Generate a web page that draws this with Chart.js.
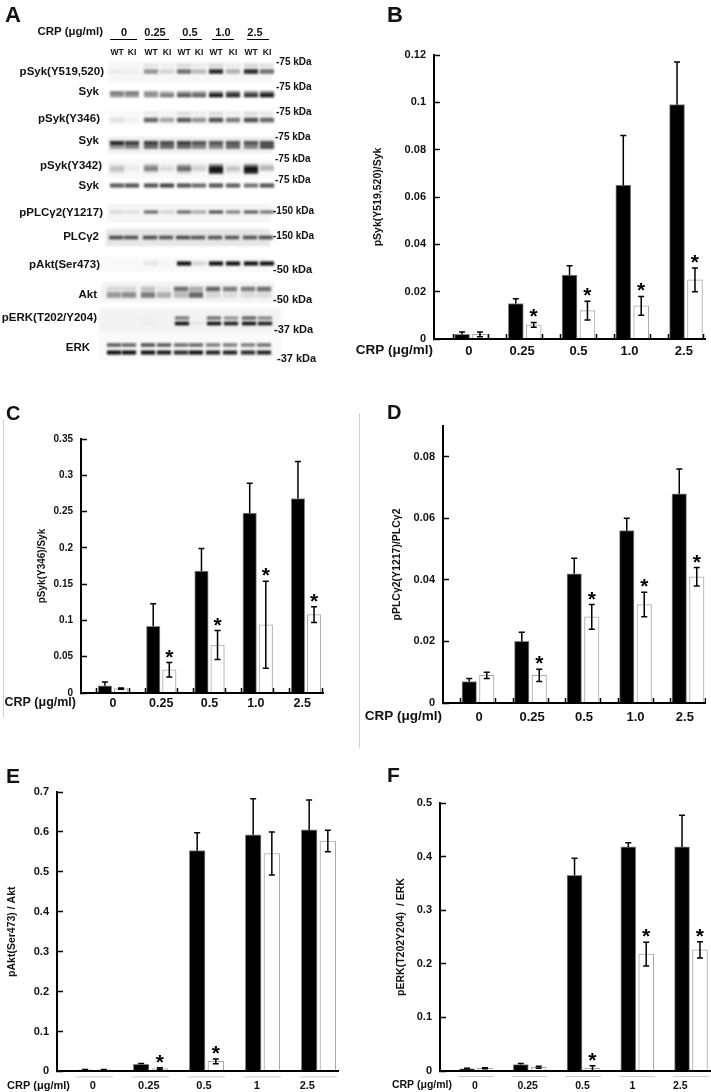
<!DOCTYPE html>
<html>
<head>
<meta charset="utf-8">
<title>CRP signalling panels</title>
<script src="https://cdn.jsdelivr.net/npm/chart.js@4/dist/chart.umd.min.js"></script>
<style>
  html, body { margin: 0; padding: 0; background: #fff; width: 711px; height: 1092px; overflow: hidden; }
  body { position: relative; font-family: "Liberation Sans", Arial, sans-serif; color: #111; }
  canvas { position: absolute; filter: blur(0.4px); }
  #blot { filter: blur(0.9px); }
  .t { position: absolute; white-space: nowrap; font-weight: bold; line-height: 1; transform: translateY(-50%); filter: blur(0.3px); }
  .r { transform: translate(-100%, -50%); }
  .c { transform: translate(-50%, -50%); }
  .rule { position: absolute; background: #000; height: 1px; }
  .vline { position: absolute; background: #d0d0d0; width: 1px; }
</style>
</head>
<body>
<canvas id="blot" width="340" height="400" style="left:0;top:0"></canvas>
<canvas id="chartB"></canvas>
<canvas id="chartC"></canvas>
<canvas id="chartD"></canvas>
<canvas id="chartE"></canvas>
<canvas id="chartF"></canvas>
<script>
// ---- DATA: bar panels ----
const dosesDecimal = ["0", "0.25", "0.5", "1.0", "2.5"];
const dosesPlain = ["0", "0.25", "0.5", "1", "2.5"];

const wtB = [0.002, 0.015, 0.027, 0.065, 0.099];
const wtErrB = [0.001, 0.002, 0.004, 0.021, 0.018];
const kiB = [0.002, 0.006, 0.012, 0.014, 0.025];
const kiErrB = [0.001, 0.001, 0.004, 0.004, 0.005];
const starsB = [false, true, true, true, true];

const wtC = [0.01, 0.092, 0.168, 0.248, 0.268];
const wtErrC = [0.005, 0.031, 0.031, 0.041, 0.051];
const kiC = [0.006, 0.032, 0.066, 0.094, 0.108];
const kiErrC = [0.001, 0.01, 0.02, 0.06, 0.011];
const starsC = [false, true, true, true, true];

const wtD = [0.007, 0.02, 0.042, 0.056, 0.068];
const wtErrD = [0.001, 0.003, 0.005, 0.004, 0.008];
const kiD = [0.009, 0.009, 0.028, 0.032, 0.041];
const kiErrD = [0.001, 0.002, 0.004, 0.004, 0.003];
const starsD = [false, true, true, true, true];

const wtE = [0.004, 0.018, 0.553, 0.593, 0.605];
const wtErrE = [0.001, 0.002, 0.045, 0.09, 0.075];
const kiE = [0.004, 0.007, 0.025, 0.546, 0.577];
const kiErrE = [0.001, 0.002, 0.006, 0.054, 0.027];
const starsE = [false, true, true, false, false];

const wtF = [0.004, 0.012, 0.365, 0.418, 0.418];
const wtErrF = [0.001, 0.002, 0.032, 0.008, 0.059];
const kiF = [0.005, 0.007, 0.005, 0.218, 0.226];
const kiErrF = [0.001, 0.002, 0.005, 0.022, 0.015];
const starsF = [false, false, true, true, true];

// ---- DATA: blot band darkness per lane (0 = none, 1 = black) ----
const syk519Upper = [0, 0, 0.08, 0.03, 0.12, 0.05, 0.14, 0.06, 0.14, 0.1];
const syk519Main = [0.05, 0.03, 0.42, 0.15, 0.58, 0.25, 0.88, 0.3, 0.88, 0.58];
const sykA1 = [0.55, 0.55, 0.45, 0.3, 0.4, 0.4, 0.5, 0.6, 0.5, 0.6];
const sykA2 = [0.45, 0.45, 0.45, 0.55, 0.7, 0.65, 0.98, 0.9, 0.85, 0.98];
const syk346Upper = [0, 0, 0.06, 0.03, 0.12, 0.05, 0.12, 0.05, 0.12, 0.08];
const syk346Main = [0.1, 0.03, 0.62, 0.35, 0.68, 0.42, 0.72, 0.52, 0.72, 0.62];
const sykB1 = [0.88, 0.78, 0.78, 0.72, 0.78, 0.68, 0.68, 0.68, 0.68, 0.72];
const sykB2 = [0.4, 0.5, 0.62, 0.62, 0.62, 0.5, 0.5, 0.62, 0.5, 0.75];
const syk342Upper = [0.1, 0.03, 0.28, 0.05, 0.32, 0.08, 0.55, 0.08, 0.55, 0.18];
const syk342Main = [0.22, 0.05, 0.48, 0.12, 0.58, 0.15, 1, 0.2, 1, 0.25];
const syk342Lower = [0.08, 0, 0.1, 0, 0.15, 0, 0.85, 0.05, 0.85, 0];
const sykC = [0.68, 0.72, 0.72, 0.78, 0.72, 0.62, 0.72, 0.68, 0.58, 0.72];
const plc1217 = [0.12, 0.1, 0.62, 0.15, 0.62, 0.35, 0.72, 0.52, 0.68, 0.58];
const plcTotal = [0.72, 0.68, 0.72, 0.68, 0.72, 0.68, 0.68, 0.68, 0.68, 0.72];
const akt473 = [0, 0, 0.08, 0.02, 1, 0.15, 1, 1, 1, 1];
const aktUpper = [0.12, 0.12, 0.22, 0.06, 0.58, 0.32, 0.62, 0.52, 0.52, 0.58];
const aktLower = [0.4, 0.45, 0.52, 0.3, 0.25, 0.62, 0.12, 0.1, 0.1, 0.1];
const erkP1 = [0, 0, 0.02, 0, 0.58, 0, 0.62, 0.45, 0.68, 0.5];
const erkP2 = [0, 0, 0.03, 0, 1, 0.05, 1, 0.95, 1, 0.95];
const erkTotal1 = [0.68, 0.62, 0.72, 0.68, 0.58, 0.62, 0.52, 0.52, 0.52, 0.58];
const erkTotal2 = [1, 1, 1, 0.95, 0.88, 1, 0.92, 0.92, 0.88, 0.92];

// ---- BLOT LAYOUT (in page pixels) ----
const laneCentres = [117, 132, 151, 167, 184, 199, 216, 233, 251, 267];
const blotBoxes = [
  { x1: 108, x2: 272, y1: 62, y2: 82, shade: "#f7f7f7" },
  { x1: 108, x2: 272, y1: 110, y2: 126, shade: "#f9f9f9" },
  { x1: 108, x2: 272, y1: 137, y2: 153, shade: "#efefef" },
  { x1: 107, x2: 272, y1: 160, y2: 178, shade: "#f8f8f8" },
  { x1: 107, x2: 271, y1: 204, y2: 222, shade: "#f5f5f5" },
  { x1: 106, x2: 270, y1: 229, y2: 246, shade: "#e6e6e6" },
  { x1: 104, x2: 270, y1: 257, y2: 272, shade: "#f9f9f9" },
  { x1: 102, x2: 274, y1: 282, y2: 302, shade: "#f3f3f3" },
  { x1: 99, x2: 281, y1: 309, y2: 333, shade: "#f3f3f3" },
  { x1: 99, x2: 281, y1: 335, y2: 360, shade: "#fafafa" }
];
const blotBands = [
  { dark: syk519Upper, y: 65.5, h: 3, dx: 0 },
  { dark: syk519Main, y: 71.5, h: 4, dx: 0 },
  { dark: sykA1, y: 92.5, h: 2, dx: 0 },
  { dark: sykA2, y: 95.5, h: 3, dx: 0 },
  { dark: syk346Upper, y: 113.5, h: 3, dx: 0 },
  { dark: syk346Main, y: 120, h: 4, dx: 0 },
  { dark: sykB1, y: 143, h: 3.5, dx: 0 },
  { dark: sykB2, y: 147, h: 3, dx: 0 },
  { dark: syk342Upper, y: 166, h: 3, dx: 0 },
  { dark: syk342Main, y: 169, h: 3.5, dx: 0 },
  { dark: syk342Lower, y: 172, h: 3, dx: 0 },
  { dark: sykC, y: 185.5, h: 3.5, dx: 0 },
  { dark: plc1217, y: 212, h: 2.5, dx: 0 },
  { dark: plcTotal, y: 237.5, h: 3, dx: -1 },
  { dark: akt473, y: 263.5, h: 3.5, dx: 0 },
  { dark: aktUpper, y: 289, h: 4, dx: -3 },
  { dark: aktLower, y: 295, h: 5, dx: -3 },
  { dark: erkP1, y: 318, h: 2.5, dx: -2 },
  { dark: erkP2, y: 323.5, h: 3, dx: -2 },
  { dark: erkTotal1, y: 345, h: 3, dx: -3 },
  { dark: erkTotal2, y: 352.5, h: 3.5, dx: -3 }
];

// ---- PANEL LAYOUT ----
const panels = [
  { id: "chartB", doses: dosesDecimal, wt: wtB, wtErr: wtErrB, ki: kiB, kiErr: kiErrB, stars: starsB,
    yTitle: "pSyk(Y519,520)/Syk", yMax: 0.12, step: 0.02, barW: 15,
    left: 345, axisX: 434, right: 705, top: 55, zero: 339, first: 471, pitch: 53.75,
    titleX: 378, titleSize: 10.5, tickSize: 11, catSize: 13, catY: 350, crpSize: 13.5, crpRight: 433, edges: true, rules: false,
    nudge: [-0.04, -0.05, 0, -0.05, -0.04] },
  { id: "chartC", doses: dosesDecimal, wt: wtC, wtErr: wtErrC, ki: kiC, kiErr: kiErrC, stars: starsC,
    yTitle: "pSyk(Y346)/Syk", yMax: 0.35, step: 0.05, barW: 13.5,
    left: 0, axisX: 81, right: 323, top: 439, zero: 693, first: 113, pitch: 48.25,
    titleX: 42, titleSize: 10, tickSize: 10, catSize: 12.5, catY: 703, crpSize: 12.5, crpRight: 76, edges: true, rules: false,
    nudge: [0, 0, 0, -0.04, -0.08] },
  { id: "chartD", doses: dosesDecimal, wt: wtD, wtErr: wtErrD, ki: kiD, kiErr: kiErrD, stars: starsD,
    yTitle: "pPLCγ2(Y1217)/PLCγ2", yMax: 0.09, step: 0.02, barW: 14.5,
    left: 362, axisX: 443, right: 705, top: 426, zero: 703, first: 478, pitch: 52.5,
    titleX: 397, titleSize: 10.5, tickSize: 11, catSize: 13, catY: 716, crpSize: 13.5, crpRight: 442, edges: true, rules: false,
    nudge: [0.02, 0.03, 0.02, 0, -0.06] },
  { id: "chartE", doses: dosesPlain, wt: wtE, wtErr: wtErrE, ki: kiE, kiErr: kiErrE, stars: starsE,
    yTitle: "pAkt(Ser473) / Akt", yMax: 0.7, step: 0.1, barW: 15.7,
    left: 0, axisX: 57, right: 338, top: 792, zero: 1072, first: 94.5, pitch: 56,
    titleX: 12, titleSize: 10.5, tickSize: 11, catSize: 11, catY: 1086, crpSize: 11, crpRight: 70, edges: false, rules: true,
    nudge: [-0.03, -0.03, -0.045, -0.1, -0.2] },
  { id: "chartF", doses: dosesPlain, wt: wtF, wtErr: wtErrF, ki: kiF, kiErr: kiErrF, stars: starsF,
    yTitle: "pERK(T202Y204)  / ERK", yMax: 0.5, step: 0.1, barW: 15,
    left: 380, axisX: 440, right: 710, top: 803, zero: 1071, first: 476, pitch: 53.75,
    titleX: 401, titleSize: 10.5, tickSize: 11, catSize: 10.5, catY: 1085, crpSize: 10.5, crpRight: 452, edges: false, rules: true,
    nudge: [-0.02, -0.04, -0.02, -0.09, -0.2] }
];

const fontFamily = '"Liberation Sans", Arial, sans-serif';

// ---- HTML TEXT FOR PANEL A + LETTERS ----
const panelLetters = [
  ["A", 5, 15, 22], ["B", 387, 15, 22], ["C", 6, 413, 20],
  ["D", 387, 412, 20], ["E", 6, 775, 21], ["F", 387, 774, 21]
];
const blotLabels = [
  ["pSyk(Y519,520)", 104, 72], ["Syk", 99, 92], ["pSyk(Y346)", 100, 119], ["Syk", 99, 141],
  ["pSyk(Y342)", 102, 166], ["Syk", 99, 186], ["pPLCγ2(Y1217)", 103, 213], ["PLCγ2", 99, 237],
  ["pAkt(Ser473)", 100, 265], ["Akt", 97, 295], ["pERK(T202/Y204)", 97, 318], ["ERK", 90, 348]
];
const kdaLabels = [
  ["-75 kDa", 276, 62, 10], ["-75 kDa", 276, 87, 10], ["-75 kDa", 276, 112, 10],
  ["-75 kDa", 275, 137, 10], ["-75 kDa", 275, 159, 10], ["-75 kDa", 275, 180, 10],
  ["-150 kDa", 273, 211, 10], ["-150 kDa", 273, 236, 10],
  ["-50 kDa", 273, 269, 11], ["-50 kDa", 273, 299, 11],
  ["-37 kDa", 274, 329, 11], ["-37 kDa", 277, 358, 11]
];
const blotDoses = [["0", 124, 110, 137], ["0.25", 155, 145, 169], ["0.5", 190, 180, 202], ["1.0", 223, 212, 234], ["2.5", 255, 247, 269]];
const laneNames = ["WT", "KI", "WT", "KI", "WT", "KI", "WT", "KI", "WT", "KI"];

function addText(text, x, y, size, cls) {
  const el = document.createElement("div");
  el.className = "t " + (cls || "");
  el.textContent = text;
  el.style.left = x + "px";
  el.style.top = y + "px";
  el.style.fontSize = size + "px";
  document.body.appendChild(el);
}

panelLetters.forEach(l => addText(l[0], l[1], l[2], l[3]));
blotLabels.forEach(l => addText(l[0], l[1], l[2], 11.5, "r"));
kdaLabels.forEach(l => addText(l[0], l[1], l[2], l[3]));
addText("CRP (μg/ml)", 103, 32, 11.5, "r");
blotDoses.forEach(d => {
  addText(d[0], d[1], 32, 11, "c");
  const rule = document.createElement("div");
  rule.className = "rule";
  rule.style.left = d[2] + "px";
  rule.style.width = (d[3] - d[2]) + "px";
  rule.style.top = "39px";
  document.body.appendChild(rule);
});
laneNames.forEach((n, i) => addText(n, laneCentres[i], 52, 8.5, "c"));

// faint dividers left over in the figure
[[3, 420, 297], [359, 413, 335]].forEach(v => {
  const line = document.createElement("div");
  line.className = "vline";
  line.style.left = v[0] + "px";
  line.style.top = v[1] + "px";
  line.style.height = v[2] + "px";
  document.body.appendChild(line);
});

// ---- BLOT ----
const blotDatasets = [];
blotBoxes.forEach(b => {
  blotDatasets.push({
    data: [{ x: (b.x1 + b.x2) / 2, y: [b.y1, b.y2] }],
    backgroundColor: b.shade,
    barThickness: b.x2 - b.x1,
    order: 2
  });
});
blotBands.forEach(b => {
  blotDatasets.push({
    data: b.dark.map((d, i) => ({ x: laneCentres[i] + b.dx, y: [b.y - b.h / 2, b.y + b.h / 2] })),
    backgroundColor: b.dark.map(d => `rgba(15,15,15,${d})`),
    barThickness: 13.5,
    order: 1
  });
});
new Chart(document.getElementById("blot"), {
  type: "bar",
  data: { datasets: blotDatasets },
  options: {
    responsive: false,
    animation: false,
    events: [],
    layout: { autoPadding: false },
    plugins: { legend: { display: false }, tooltip: { enabled: false } },
    datasets: { bar: { grouped: false } },
    scales: {
      x: { type: "linear", offset: false, min: 0, max: 340, display: false },
      y: { type: "linear", min: 0, max: 400, reverse: true, display: false }
    }
  }
});

// ---- BAR PANELS ----
const GROUP_HALF = 1 / 3;
const PAD_TOP = 24;
const BOTTOM_ROOM = 30;

const marksPlugin = {
  id: "marks",
  afterDatasetsDraw(chart) {
    const p = chart.options.plugins.marks.panel;
    const ctx = chart.ctx;
    const y = chart.scales.y;
    ctx.save();
    ctx.strokeStyle = "#000";
    ctx.fillStyle = "#000";
    ctx.lineWidth = 1.5;
    [[0, p.wt, p.wtErr], [1, p.ki, p.kiErr]].forEach(([ds, vals, errs]) => {
      const bars = chart.getDatasetMeta(ds).data;
      vals.forEach((v, i) => {
        const x = bars[i].x;
        const hi = y.getPixelForValue(v + errs[i]);
        const lo = ds === 0 ? y.getPixelForValue(v) : y.getPixelForValue(v - errs[i]);
        ctx.beginPath();
        ctx.moveTo(x, lo); ctx.lineTo(x, hi);
        ctx.moveTo(x - 3, hi); ctx.lineTo(x + 3, hi);
        if (ds === 1) { ctx.moveTo(x - 3, lo); ctx.lineTo(x + 3, lo); }
        ctx.stroke();
        if (ds === 1 && p.stars[i]) {
          ctx.font = `bold 21px ${fontFamily}`;
          ctx.textAlign = "center";
          ctx.textBaseline = "alphabetic";
          ctx.fillText("*", x, hi + 1);
        }
      });
    });
    ctx.restore();
  },
  afterDraw(chart) {
    const p = chart.options.plugins.marks.panel;
    const ctx = chart.ctx;
    const x = chart.scales.x;
    const area = chart.chartArea;
    ctx.save();
    ctx.fillStyle = "#111";
    ctx.font = `bold ${p.crpSize}px ${fontFamily}`;
    ctx.textAlign = "right";
    ctx.textBaseline = "middle";
    ctx.fillText("CRP (μg/ml)", p.crpRight - p.left, p.catY - p.top + area.top);
    if (p.rules) {
      ctx.strokeStyle = "#cfcfcf";
      ctx.lineWidth = 1;
      p.doses.forEach((d, i) => {
        ctx.beginPath();
        ctx.moveTo(x.getPixelForValue(i - GROUP_HALF), area.bottom + 5.5);
        ctx.lineTo(x.getPixelForValue(i + GROUP_HALF), area.bottom + 5.5);
        ctx.stroke();
      });
    }
    ctx.restore();
  }
};

function drawPanel(p) {
  const canvas = document.getElementById(p.id);
  canvas.width = Math.min(p.right + 1, 711) - p.left;
  canvas.height = Math.min(p.zero + BOTTOM_ROOM, 1092) - p.top + PAD_TOP;
  canvas.style.left = p.left + "px";
  canvas.style.top = (p.top - PAD_TOP) + "px";
  const bottomRoom = canvas.height - PAD_TOP - (p.zero - p.top);

  const catPad = p.catY - p.zero - p.catSize * 0.6;

  new Chart(canvas, {
    type: "bar",
    data: {
      datasets: [
        { label: "WT", data: p.wt.map((v, i) => ({ x: i - GROUP_HALF / 2, y: v })), backgroundColor: "#000", borderColor: "#888", borderWidth: 1 },
        { label: "KI", data: p.ki.map((v, i) => ({ x: i + GROUP_HALF / 2, y: v })), backgroundColor: "#fff", borderColor: "#a8a8a8", borderWidth: 1 }
      ]
    },
    options: {
      responsive: false,
      animation: false,
      events: [],
      layout: { autoPadding: false, padding: { top: PAD_TOP, right: canvas.width - (p.right - p.left) } },
      plugins: { legend: { display: false }, tooltip: { enabled: false }, marks: { panel: p } },
      datasets: { bar: { grouped: false, barThickness: p.barW } },
      scales: {
        x: {
          type: "linear",
          offset: false,
          bounds: "data",
          min: (p.axisX - p.first) / p.pitch,
          max: (p.right - p.first) / p.pitch,
          afterBuildTicks: scale => {
            // every dose gets: left edge, label, right edge
            const t = [];
            p.doses.forEach((d, i) => {
              t.push({ value: i - GROUP_HALF }, { value: i + p.nudge[i] }, { value: i + GROUP_HALF });
            });
            scale.ticks = t;
          },
          afterFit: scale => {
            scale.height = bottomRoom;
            // tick padding would otherwise eat into the axis length
            scale.paddingLeft = 0;
            scale.paddingRight = 0;
          },
          border: { color: "#000", width: 2, z: 1 },
          grid: {
            offset: false,
            drawOnChartArea: false,
            z: 1,
            tickLength: -5,
            tickColor: "#000",
            tickWidth: c => (p.edges && c.index % 3 !== 1 ? 1.5 : 0)
          },
          ticks: {
            autoSkip: false,
            maxRotation: 0,
            minRotation: 0,
            padding: catPad + 6,
            color: "#111",
            font: { family: fontFamily, size: p.catSize, weight: "bold" },
            callback: (v, i) => (i % 3 === 1 ? p.doses[(i - 1) / 3] : "")
          }
        },
        y: {
          type: "linear",
          bounds: "data",
          min: 0,
          max: p.yMax,
          afterBuildTicks: scale => {
            // D's axis runs past its last tick, keep only whole steps
            scale.ticks = scale.ticks.filter(t => Math.abs(t.value / p.step - Math.round(t.value / p.step)) < 1e-6);
          },
          afterFit: scale => { scale.width = p.axisX - p.left; },
          border: { color: "#000", width: 2, z: 1 },
          grid: { drawOnChartArea: false, z: 1, tickLength: -6, tickColor: "#000", tickWidth: 1.5 },
          ticks: {
            stepSize: p.step,
            padding: 14,
            color: "#111",
            font: { family: fontFamily, size: p.tickSize, weight: "bold" },
            callback: v => String(+v.toFixed(2))
          },
          title: {
            display: true,
            text: p.yTitle,
            color: "#111",
            font: { family: fontFamily, size: p.titleSize, weight: "bold" },
            padding: { top: p.titleX - p.left - p.titleSize * 0.6, bottom: 0 }
          }
        }
      }
    },
    plugins: [marksPlugin]
  });
}

panels.forEach(drawPanel);
</script>
</body>
</html>
